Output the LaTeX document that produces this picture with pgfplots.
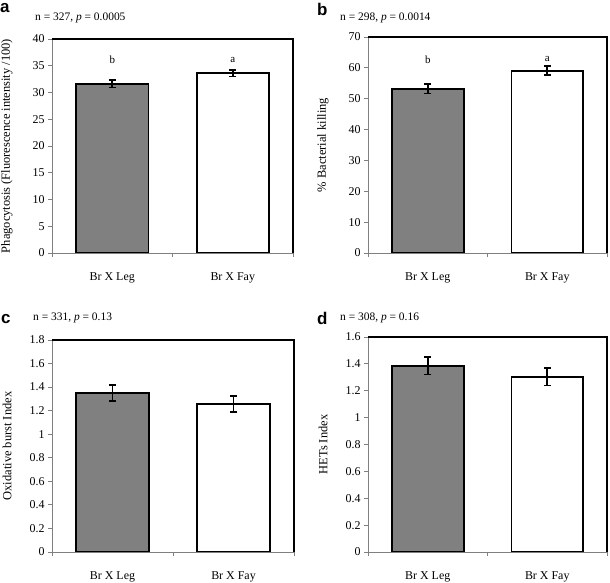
\documentclass[border=0pt]{standalone}
\usepackage{pgfplots}
\pgfplotsset{compat=1.18}
\usepackage{fontspec}
\setmainfont{Liberation Serif}
\newfontfamily\panelfont{Liberation Sans}
\definecolor{barg}{RGB}{128,128,128}
\definecolor{axg}{RGB}{128,128,128}

\pgfplotsset{panel/.style={
  scale only axis, width=241bp,
  xmin=0, xmax=2, ymin=0,
  axis line style={draw=none},
  xtick={0,1,2}, xticklabels={,,},
  extra x ticks={0.5,1.5}, extra x tick labels={Br X Leg, Br X Fay},
  extra x tick style={major tick length=0pt, xticklabel style={yshift=-16bp}},
  xtick pos=bottom, ytick pos=left,
  tick align=outside, major tick length=4bp,
  tick style={axg, line width=0.8bp},
  ticklabel style={font=\fontsize{12}{14}\selectfont},
  /pgf/number format/assume math mode=true,
  every axis y label/.style={at={(rel axis cs:0,0.5)}, rotate=90, anchor=center, yshift=45bp, font=\fontsize{12.5}{14}\selectfont},
  ybar, bar width=0.6, bar shift=0pt,
  clip=false,
}, 
gbar/.style={fill=barg, draw=black, line width=1.8bp,
  error bars/.cd, y dir=both, y explicit,
  error bar style={line width=1.6bp, black},
  error mark options={rotate=90, mark size=3.5bp, line width=1.6bp, black}},
wbar/.style={fill=white, draw=black, line width=1.8bp,
  error bars/.cd, y dir=both, y explicit,
  error bar style={line width=1.6bp, black},
  error mark options={rotate=90, mark size=3.5bp, line width=1.6bp, black}},
}
\newcommand{\frameaxis}{%
  \draw[axg, line width=0.8bp] (rel axis cs:0,1) -- (rel axis cs:0,0) -- (rel axis cs:1,0);
  \draw[black, line width=1.8bp] (rel axis cs:0,1) -- (rel axis cs:1,1) -- (rel axis cs:1,0);}

\begin{document}
\begin{tikzpicture}[x=1bp,y=1bp]
\useasboundingbox (0,0) rectangle (610,583);

% panel a
\begin{axis}[panel, at={(52bp,330bp)}, anchor=south west, height=214bp,
  ymax=40, ytick={0,5,10,15,20,25,30,35,40},
  ylabel={Phagocytosis (Fluorescence intensity /100)}]
\addplot[gbar] coordinates {(0.5,31.6) +- (0,0.7)};
\addplot[wbar] coordinates {(1.5,33.6) +- (0,0.6)};
\node[font=\fontsize{11}{13}\selectfont] at (axis cs:0.5,36.1) {b};
\node[font=\fontsize{11}{13}\selectfont] at (axis cs:1.5,36.1) {a};
\frameaxis
\end{axis}

% panel b
\begin{axis}[panel, at={(368bp,330bp)}, anchor=south west, width=239bp, height=216bp,
  ymax=70, ytick={0,10,20,30,40,50,60,70},
  ylabel={\% Bacterial killing}]
\addplot[gbar] coordinates {(0.5,53.2) +- (0,1.5)};
\addplot[wbar] coordinates {(1.5,59.1) +- (0,1.5)};
\node[font=\fontsize{11}{13}\selectfont] at (axis cs:0.5,62.5) {b};
\node[font=\fontsize{11}{13}\selectfont] at (axis cs:1.5,62.8) {a};
\frameaxis
\end{axis}

% panel c
\begin{axis}[panel, at={(52bp,31bp)}, anchor=south west, width=242bp, height=212bp,
  ymax=1.8, ytick={0,0.2,0.4,0.6,0.8,1,1.2,1.4,1.6,1.8},
  ylabel={Oxidative burst Index}]
\addplot[gbar] coordinates {(0.5,1.35) +- (0,0.07)};
\addplot[wbar] coordinates {(1.5,1.257) +- (0,0.07)};
\frameaxis
\end{axis}

% panel d
\begin{axis}[panel, at={(368bp,31bp)}, anchor=south west, width=239bp, height=215bp,
  ymax=1.6, ytick={0,0.2,0.4,0.6,0.8,1,1.2,1.4,1.6},
  ylabel={HETs Index}]
\addplot[gbar] coordinates {(0.5,1.386) +- (0,0.065)};
\addplot[wbar] coordinates {(1.5,1.305) +- (0,0.065)};
\frameaxis
\end{axis}

% titles
\node[anchor=west, inner sep=0, font=\fontsize{11.5}{13}\selectfont] at (35,565) {n = 327, \textit{p} = 0.0005};
\node[anchor=west, inner sep=0, font=\fontsize{11.5}{13}\selectfont] at (340,565) {n = 298, \textit{p} = 0.0014};
\node[anchor=west, inner sep=0, font=\fontsize{11.5}{13}\selectfont] at (33,265) {n = 331, \textit{p} = 0.13};
\node[anchor=west, inner sep=0, font=\fontsize{11.5}{13}\selectfont] at (340,265) {n = 308, \textit{p} = 0.16};

% panel letters
\node[anchor=north west, inner sep=0, font=\panelfont\bfseries\fontsize{17}{17}\selectfont] at (0,580) {a};
\node[anchor=north west, inner sep=0, font=\panelfont\bfseries\fontsize{17}{17}\selectfont] at (317,580) {b};
\node[anchor=north west, inner sep=0, font=\panelfont\bfseries\fontsize{17}{17}\selectfont] at (1,269) {c};
\node[anchor=north west, inner sep=0, font=\panelfont\bfseries\fontsize{17}{17}\selectfont] at (317,271) {d};
\end{tikzpicture}
\end{document}
